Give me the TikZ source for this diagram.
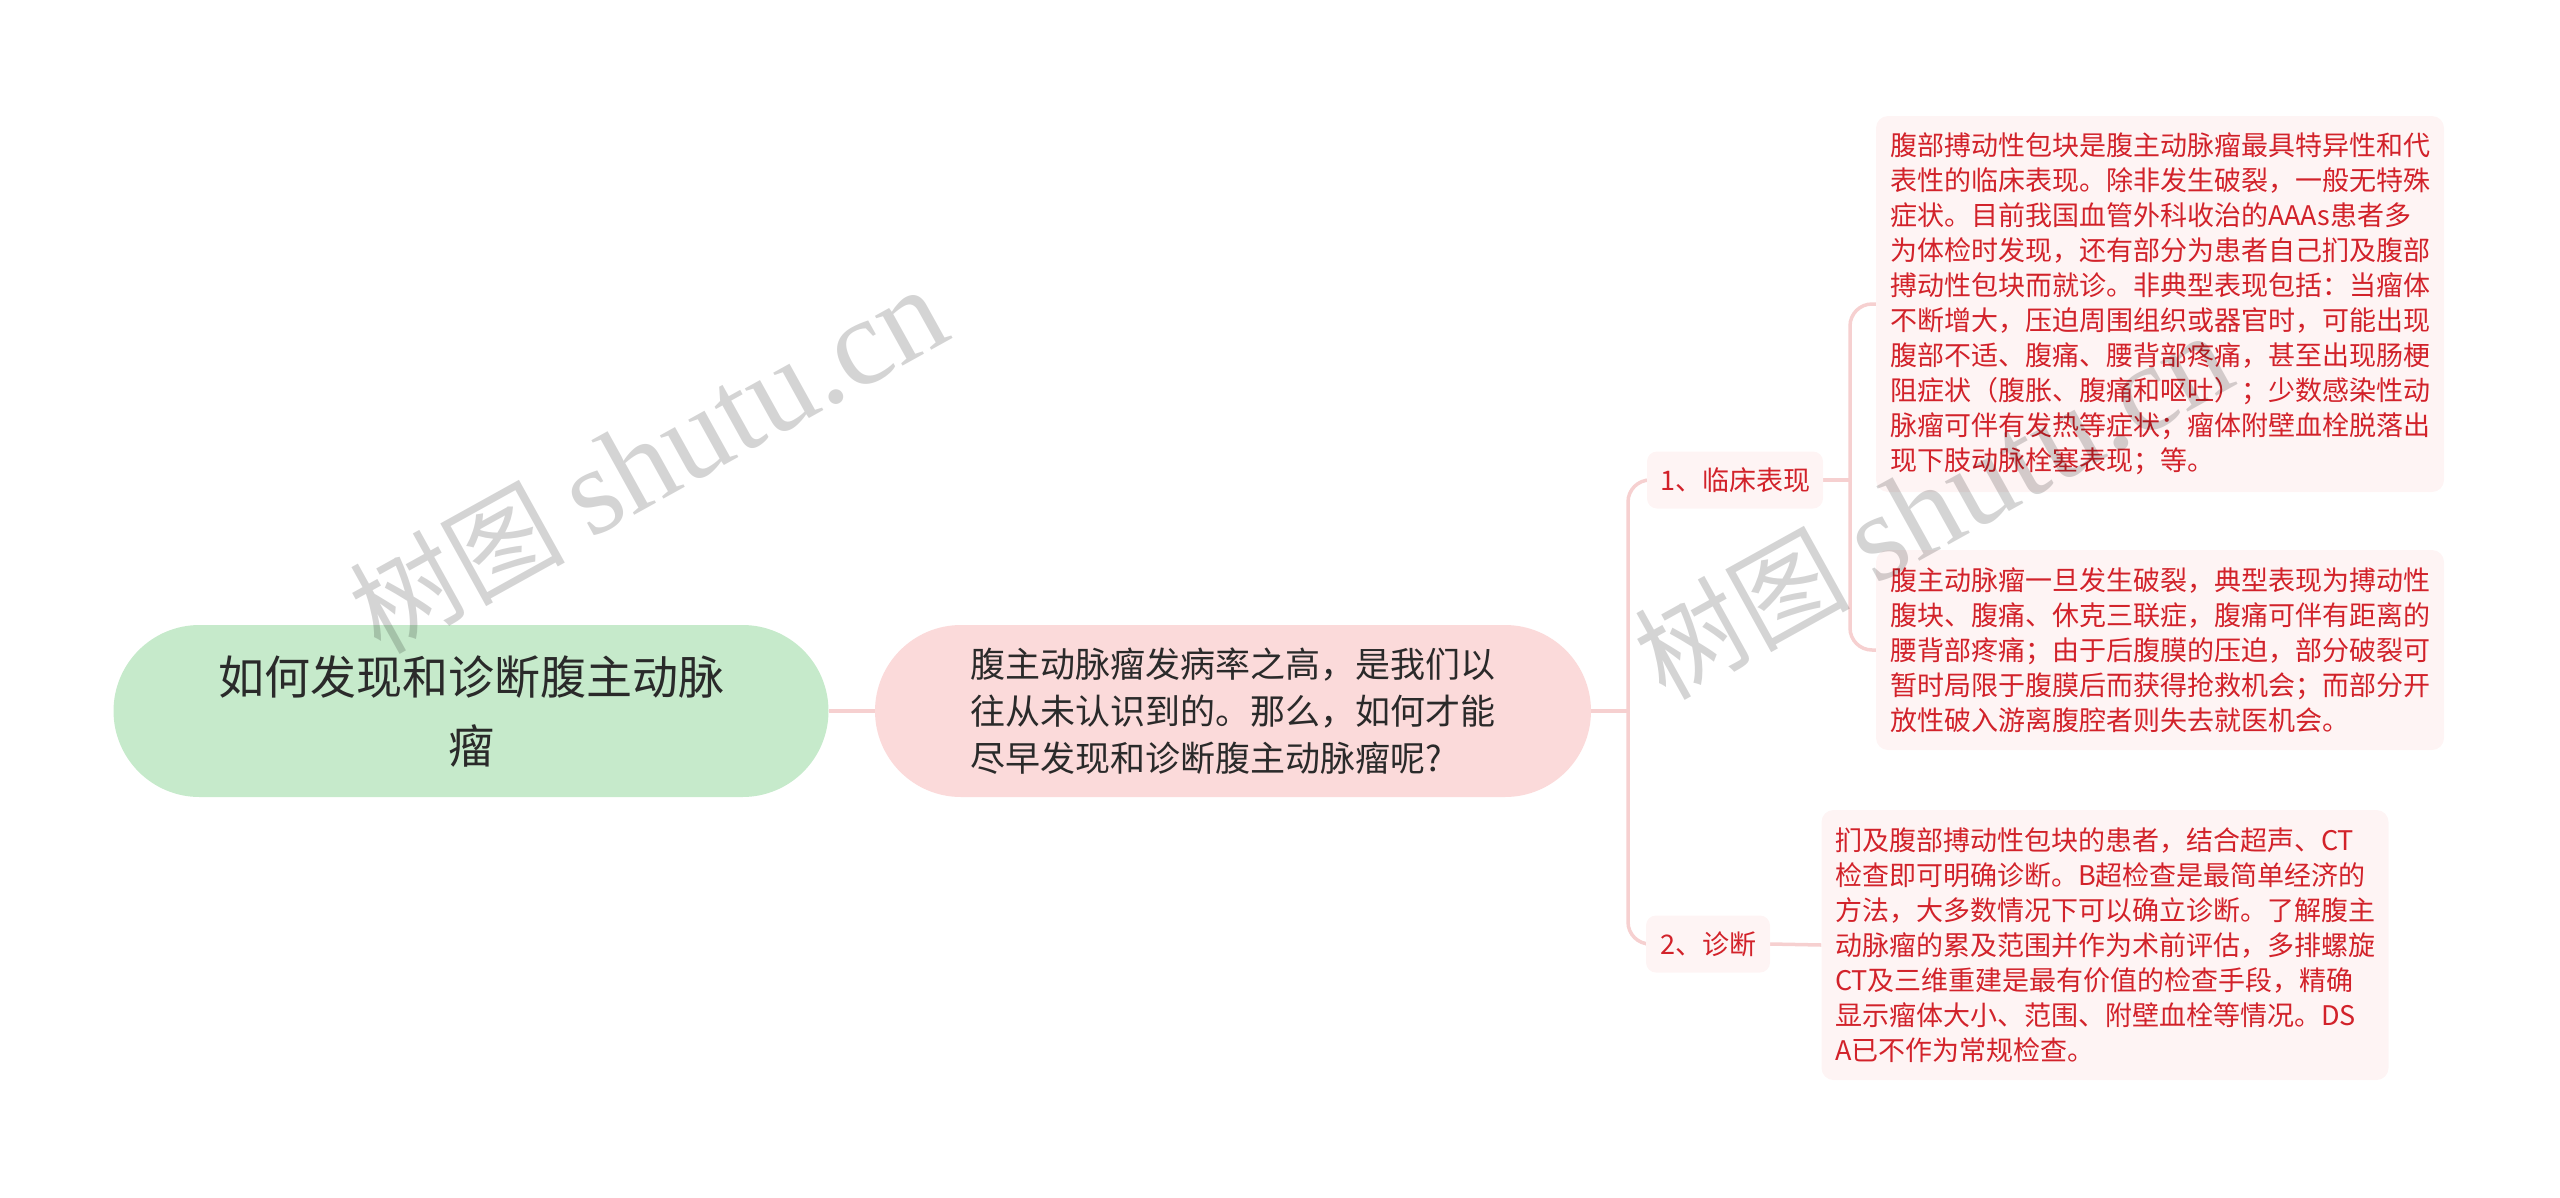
\documentclass[tikz,border=0pt]{standalone}
\usepackage{fontspec}
\setmainfont{Noto Sans CJK SC}
\newfontfamily\wmfont{Liberation Serif}
\usetikzlibrary{backgrounds}
\definecolor{rootfill}{HTML}{C6EACB}
\definecolor{midfill}{HTML}{FBDADA}
\definecolor{leaffill}{HTML}{FEF4F4}
\definecolor{leaftext}{HTML}{D2222A}
\definecolor{linkc}{HTML}{F6D0D0}
\definecolor{darktext}{HTML}{2A2A2A}
\begin{document}
\begin{tikzpicture}[x=1pt,y=-1pt,
  rootbox/.style={fill=rootfill, rounded corners=86pt, minimum width=715pt, minimum height=172pt, inner sep=0pt, align=center, text=darktext, font=\fontsize{46}{69}\selectfont},
  midbox/.style={fill=midfill, rounded corners=86pt, minimum width=716pt, minimum height=172pt, inner sep=0pt, align=left, text=darktext, font=\fontsize{35}{47}\selectfont},
  labelbox/.style={fill=leaffill, rounded corners=10pt, minimum height=57pt, inner sep=0pt, text=leaftext, font=\fontsize{27}{35}\selectfont},
  leafbox/.style={fill=leaffill, rounded corners=12pt, inner sep=0pt, align=left, text=leaftext, font=\fontsize{27}{35}\selectfont},
  link/.style={draw=linkc, line width=3.5pt},
  wm/.style={text=black, text opacity=0.17, inner sep=0pt, font=\fontsize{108}{108}\selectfont}
]
\useasboundingbox (0,0) rectangle (2560,1197);

\node[rootbox] (root) at (471,711) {如何发现和诊断腹主动脉\\瘤};
\node[midbox] (mid) at (1233,711) {腹主动脉瘤发病率之高，是我们以\\往从未认识到的。那么，如何才能\\尽早发现和诊断腹主动脉瘤呢?};

\node[labelbox, minimum width=176pt] (n1) at (1735,480) {1、临床表现};
\node[labelbox, minimum width=124pt] (n2) at (1708,944) {2、诊断};

\node[leafbox, minimum width=568pt, minimum height=376pt] (b1) at (2160,304) {腹部搏动性包块是腹主动脉瘤最具特异性和代\\表性的临床表现。除非发生破裂，一般无特殊\\症状。目前我国血管外科收治的AAAs患者多\\为体检时发现，还有部分为患者自己扪及腹部\\搏动性包块而就诊。非典型表现包括：当瘤体\\不断增大，压迫周围组织或器官时，可能出现\\腹部不适、腹痛、腰背部疼痛，甚至出现肠梗\\阻症状（腹胀、腹痛和呕吐）；少数感染性动\\脉瘤可伴有发热等症状；瘤体附壁血栓脱落出\\现下肢动脉栓塞表现；等。};
\node[leafbox, minimum width=568pt, minimum height=200pt] (b2) at (2160,650) {腹主动脉瘤一旦发生破裂，典型表现为搏动性\\腹块、腹痛、休克三联症，腹痛可伴有距离的\\腰背部疼痛；由于后腹膜的压迫，部分破裂可\\暂时局限于腹膜后而获得抢救机会；而部分开\\放性破入游离腹腔者则失去就医机会。};
\node[leafbox, minimum width=567pt, minimum height=270pt] (b3) at (2105,945) {扪及腹部搏动性包块的患者，结合超声、CT\\检查即可明确诊断。B超检查是最简单经济的\\方法，大多数情况下可以确立诊断。了解腹主\\动脉瘤的累及范围并作为术前评估，多排螺旋\\CT及三维重建是最有价值的检查手段，精确\\显示瘤体大小、范围、附壁血栓等情况。DS\\A已不作为常规检查。};

\begin{scope}[on background layer]
  \draw[link] (root.east) -- (mid.west);
  \coordinate (j1) at (1628,711);
  \coordinate (j2) at (1850,480);
  \draw[link] (mid.east) -- (j1);
  \draw[link, rounded corners=22pt] (n1.west) -| (j1) |- (n2.west);
  \draw[link] (n1.east) -- (j2);
  \draw[link, rounded corners=22pt] (b1.west) -| (j2) |- (b2.west);
  \draw[link] (n2.east) -- (b3.west);
\end{scope}

\node[wm, anchor=base west, rotate=29] (wm1) at (380,656) {树图 {\wmfont\fontsize{124}{124}\selectfont shutu.cn}};
\node[wm, anchor=base west, rotate=29] (wm2) at (1665,702) {树图 {\wmfont\fontsize{124}{124}\selectfont shutu.cn}};
\end{tikzpicture}
\end{document}
